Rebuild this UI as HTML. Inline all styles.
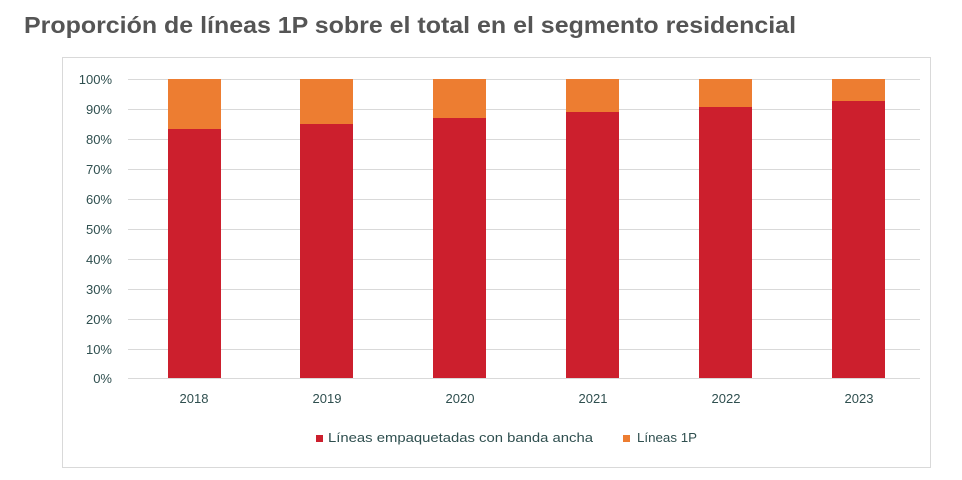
<!DOCTYPE html>
<html><head><meta charset="utf-8"><style>
body{margin:0;background:#fff;width:962px;height:475px;overflow:hidden;font-family:"Liberation Sans",sans-serif}
</style></head><body>
<svg width="962" height="475" xmlns="http://www.w3.org/2000/svg" font-family="Liberation Sans, sans-serif">
<text x="24" y="33" font-size="23" font-weight="bold" fill="#555" textLength="772" lengthAdjust="spacingAndGlyphs">Proporción de líneas 1P sobre el total en el segmento residencial</text>
<rect x="62.5" y="57.5" width="868" height="410" fill="#fff" stroke="#d9d9d9"/>
<g stroke="#d9d9d9" stroke-width="1">
<line x1="128" x2="920" y1="79.5" y2="79.5"/><line x1="128" x2="920" y1="109.5" y2="109.5"/>
<line x1="128" x2="920" y1="139.5" y2="139.5"/><line x1="128" x2="920" y1="169.5" y2="169.5"/>
<line x1="128" x2="920" y1="199.5" y2="199.5"/><line x1="128" x2="920" y1="229.5" y2="229.5"/>
<line x1="128" x2="920" y1="259.5" y2="259.5"/><line x1="128" x2="920" y1="289.5" y2="289.5"/>
<line x1="128" x2="920" y1="319.5" y2="319.5"/><line x1="128" x2="920" y1="349.5" y2="349.5"/>
<line x1="128" x2="920" y1="378.5" y2="378.5"/>
</g>
<g font-size="13" fill="#2f4f4f" text-anchor="end">
<text x="112" y="84">100%</text><text x="112" y="114">90%</text><text x="112" y="144">80%</text>
<text x="112" y="174">70%</text><text x="112" y="204">60%</text><text x="112" y="234">50%</text>
<text x="112" y="264">40%</text><text x="112" y="294">30%</text><text x="112" y="324">20%</text>
<text x="112" y="354">10%</text><text x="112" y="383">0%</text>
</g>
<g fill="#ed7d31">
<rect x="168" y="79" width="53" height="50"/><rect x="300" y="79" width="53" height="45"/>
<rect x="433" y="79" width="53" height="39"/><rect x="566" y="79" width="53" height="33"/>
<rect x="699" y="79" width="53" height="28"/><rect x="832" y="79" width="53" height="22"/>
</g>
<g fill="#cc1f2d">
<rect x="168" y="129" width="53" height="249"/><rect x="300" y="124" width="53" height="254"/>
<rect x="433" y="118" width="53" height="260"/><rect x="566" y="112" width="53" height="266"/>
<rect x="699" y="107" width="53" height="271"/><rect x="832" y="101" width="53" height="277"/>
</g>
<g font-size="13" fill="#2f4f4f" text-anchor="middle">
<text x="194" y="403">2018</text><text x="327" y="403">2019</text><text x="460" y="403">2020</text>
<text x="593" y="403">2021</text><text x="726" y="403">2022</text><text x="859" y="403">2023</text>
</g>
<rect x="316" y="435" width="7" height="7" fill="#cc1f2d"/>
<text x="328" y="442" font-size="13" fill="#2f4f4f" textLength="265" lengthAdjust="spacingAndGlyphs">Líneas empaquetadas con banda ancha</text>
<rect x="623" y="435" width="7" height="7" fill="#ed7d31"/>
<text x="637" y="442" font-size="13" fill="#2f4f4f" textLength="60" lengthAdjust="spacingAndGlyphs">Líneas 1P</text>
</svg>
</body></html>
